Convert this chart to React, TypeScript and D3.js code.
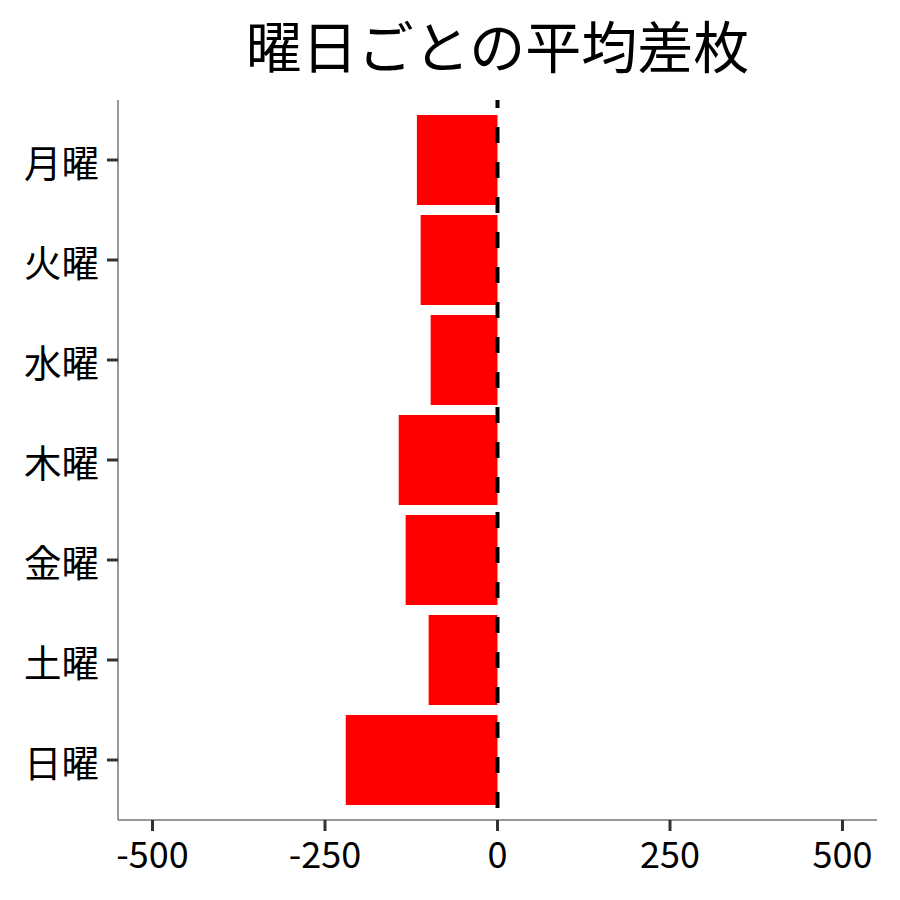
import React, { useLayoutEffect } from "react";
import * as d3 from "d3";

const days = ["月曜", "火曜", "水曜", "木曜", "金曜", "土曜", "日曜"];
const meanDiff = [-116.8, -111.4, -96.9, -143.2, -133.1, -99.8, -219.9];
const xTicks = [-500, -250, 0, 250, 500];
const title = "曜日ごとの平均差枚";

const W = 900;
const H = 900;
const left = 118;
const right = 877;
const top = 100;
const bottom = 820;
const FONT = "'Noto Sans CJK JP', 'Noto Sans', sans-serif";

export default function App() {
  useLayoutEffect(() => {
    document.body.style.margin = "0";
  }, []);

  const x = d3.scaleLinear().domain([-550, 550]).range([left, right]);
  const yc = d3
    .scalePoint<string>()
    .domain(days)
    .range([top + 60, bottom - 60]);
  const band = 90;

  return (
    <svg width={W} height={H} style={{ display: "block", background: "#fff" }}>
      <text
        x={(left + right) / 2}
        y={43}
        textAnchor="middle"
        dominantBaseline="central"
        fontFamily={FONT}
        fontSize={56}
        fill="#000"
      >
        {title}
      </text>
      {days.map((d, i) => {
        const v = meanDiff[i];
        const x0 = x(Math.min(0, v));
        const x1 = x(Math.max(0, v));
        return (
          <rect
            key={d}
            x={x0}
            y={(yc(d) as number) - band / 2}
            width={x1 - x0}
            height={band}
            fill="#ff0000"
          />
        );
      })}
      <line
        x1={x(0)}
        x2={x(0)}
        y1={top}
        y2={bottom}
        stroke="#000"
        strokeWidth={4}
        strokeDasharray="16 19"
        strokeDashoffset={8}
      />
      {/* axes */}
      <line x1={left} x2={left} y1={top} y2={bottom} stroke="#777" strokeWidth={1.5} />
      <line x1={left} x2={right} y1={bottom} y2={bottom} stroke="#777" strokeWidth={1.5} />
      {days.map((d) => (
        <g key={"yt" + d}>
          <line
            x1={left - 11}
            x2={left}
            y1={yc(d) as number}
            y2={yc(d) as number}
            stroke="#333"
            strokeWidth={3}
          />
          <text
            x={99}
            y={yc(d) as number}
            textAnchor="end"
            dominantBaseline="central"
            fontFamily={FONT}
            fontSize={37.5}
            fill="#000"
          >
            {d}
          </text>
        </g>
      ))}
      {xTicks.map((t) => (
        <g key={"xt" + t}>
          <line
            x1={x(t)}
            x2={x(t)}
            y1={bottom}
            y2={bottom + 11}
            stroke="#333"
            strokeWidth={3}
          />
          <text
            x={x(t)}
            y={868}
            textAnchor="middle"
            fontFamily={FONT}
            fontSize={36}
            fill="#000"
          >
            {t}
          </text>
        </g>
      ))}
    </svg>
  );
}
